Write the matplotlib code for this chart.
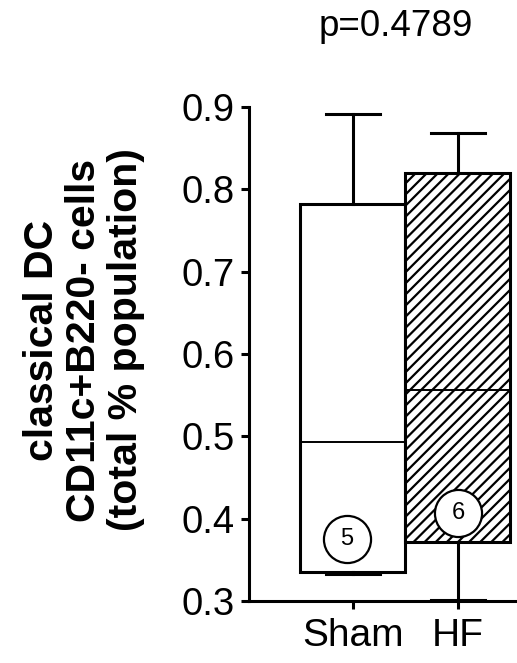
import matplotlib
matplotlib.use("Agg")
import matplotlib.pyplot as plt

plt.rcParams['font.family'] = ['Liberation Sans', 'DejaVu Sans']
plt.rcParams['hatch.linewidth'] = 1.6

# box summaries (low whisker, Q1, median, Q3, high whisker)
groups = ['Sham', 'HF']
whis_lo = [0.333, 0.301]
q1 = [0.335, 0.372]
median = [0.493, 0.556]
q3 = [0.782, 0.820]
whis_hi = [0.892, 0.868]
n_counts = [5, 6]
p_text = 'p=0.4789'
yticks = [0.3, 0.4, 0.5, 0.6, 0.7, 0.8, 0.9]

fig = plt.figure(figsize=(5.17, 6.63), dpi=100)
ax = fig.add_axes([249 / 517, 1 - 601 / 663, 1 - 249 / 517, (601 - 107) / 663])

stats = []
for i, g in enumerate(groups):
    stats.append(dict(label=g, whislo=whis_lo[i], q1=q1[i], med=median[i],
                      q3=q3[i], whishi=whis_hi[i], fliers=[]))

bp = ax.bxp(stats, positions=[1, 2], widths=1.0, capwidths=0.52,
            patch_artist=True, showfliers=False,
            boxprops=dict(facecolor='white', edgecolor='black', linewidth=2.2),
            whiskerprops=dict(color='black', linewidth=2.2),
            capprops=dict(color='black', linewidth=2.2),
            medianprops=dict(color='black', linewidth=1.4))
bp['boxes'][1].set_hatch('///')
for art in bp['boxes'] + bp['whiskers'] + bp['caps'] + bp['medians']:
    art.set_clip_on(False)

# sample size markers
n_pos = [(0.94, 0.375), (2.0, 0.407)]
for (x, y), n in zip(n_pos, n_counts):
    ax.scatter([x], [y], s=1150, facecolor='white', edgecolor='black',
               linewidth=1.6, zorder=5, clip_on=False)
    ax.text(x, y, str(n), ha='center', va='center', fontsize=17, zorder=6)

ax.set_xlim(0.01, 2.562)
ax.set_ylim(0.3, 0.9)
ax.set_yticks(yticks)
ax.set_yticklabels([f'{t:.1f}' for t in yticks])
ax.set_xticks([1, 2])
ax.set_xticklabels(groups)

for s in ['top', 'right']:
    ax.spines[s].set_visible(False)
for s in ['left', 'bottom']:
    ax.spines[s].set_linewidth(2.2)
ax.tick_params(axis='both', width=2.2, length=6, direction='out')
ax.tick_params(axis='y', labelsize=27.5, pad=4)
ax.tick_params(axis='x', labelsize=28, pad=6)

fig.text(84 / 517, 1 - 340 / 663,
         'classical DC\nCD11c+B220- cells\n(total % population)',
         rotation=90, ha='center', va='center', multialignment='center',
         fontsize=29.5, fontweight='bold', linespacing=1.12)
fig.text(396 / 517, 1 - 26 / 663, p_text, ha='center', va='center', fontsize=26.5)

fig.savefig('out.png', dpi=100)
